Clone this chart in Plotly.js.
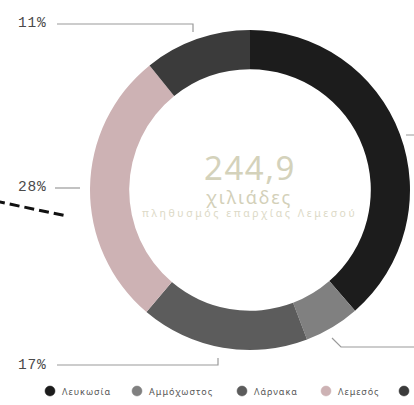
<!DOCTYPE html>
<html>
<head>
<meta charset="utf-8">
<script src="https://cdn.plot.ly/plotly-3.0.1.min.js"></script>
<style>
html,body{margin:0;padding:0;overflow:hidden;background:#fff;}
#chart{width:560px;height:405px;}
</style>
</head>
<body>
<div id="chart"></div>
<script>
// Data
const categories = ['Λευκωσία', 'Αμμόχωστος', 'Λάρνακα', 'Λεμεσός', 'Πάφος'];
const shares = [38.6, 5.6, 17.0, 28.0, 10.8];
const colors = ['#1c1c1c', '#808080', '#5c5c5c', '#cdb2b4', '#3b3b3b'];
const centerValue = '244,9';
const centerUnit = 'χιλιάδες';
const centerCaption = 'πληθυσμός επαρχίας Λεμεσού';

const W = 560, H = 405;
const px = x => x / W;
const py = y => 1 - y / H;
const pct = i => Math.round(shares[i]) + '%';

const trace = {
  type: 'pie',
  labels: categories,
  values: shares,
  marker: {colors: colors, line: {width: 0}},
  hole: 0.755,
  sort: false,
  direction: 'clockwise',
  rotation: 0,
  textinfo: 'none',
  hoverinfo: 'label+percent',
  showlegend: false,
  domain: {x: [px(90), px(410)], y: [py(350), py(30)]}
};

const lineStyle = {color: '#9a9a9a', width: 1.2};
const pathOf = pts => 'M ' + pts.map(p => px(p[0]) + ' ' + py(p[1])).join(' L ');
const shapes = [
  {type: 'path', xref: 'paper', yref: 'paper', path: pathOf([[57,24],[193,24],[193,32]]), line: lineStyle},
  {type: 'path', xref: 'paper', yref: 'paper', path: pathOf([[55,188],[80,188]]), line: lineStyle},
  {type: 'path', xref: 'paper', yref: 'paper', path: pathOf([[57,365],[218,365],[218,358]]), line: lineStyle},
  {type: 'path', xref: 'paper', yref: 'paper', path: pathOf([[332,338],[341,347],[470,347]]), line: lineStyle},
  {type: 'path', xref: 'paper', yref: 'paper', path: pathOf([[406,135],[450,135]]), line: lineStyle},
  {type: 'path', xref: 'paper', yref: 'paper', path: pathOf([[-5,201],[67,216]]), line: {color: '#111', width: 3, dash: '10px,5px'}}
];

const pctFont = {family: 'Liberation Mono, monospace', size: 14.5, color: '#4a4a4a'};
const pctText = i => '<span style="letter-spacing:0.8px">' + pct(i) + '</span>';
const annotations = [
  {text: pctText(4), x: px(49), y: py(23), xanchor: 'right', yanchor: 'middle'},
  {text: pctText(3), x: px(49), y: py(187), xanchor: 'right', yanchor: 'middle'},
  {text: pctText(2), x: px(49), y: py(365), xanchor: 'right', yanchor: 'middle'},
  {text: pctText(1), x: px(475), y: py(347), xanchor: 'left', yanchor: 'middle'},
  {text: pctText(0), x: px(455), y: py(135), xanchor: 'left', yanchor: 'middle'}
].map(a => Object.assign(a, {xref: 'paper', yref: 'paper', showarrow: false, font: pctFont}));

// centre text
annotations.push(
  {text: '<span style="letter-spacing:1.5px">' + centerValue + '</span>', x: px(250), y: py(168),
   xref: 'paper', yref: 'paper', showarrow: false, xanchor: 'center', yanchor: 'middle',
   font: {family: 'Noto Sans, sans-serif', size: 33, color: '#d4d2bb'}},
  {text: '<span style="letter-spacing:2px">' + centerUnit + '</span>', x: px(249), y: py(197),
   xref: 'paper', yref: 'paper', showarrow: false, xanchor: 'center', yanchor: 'middle',
   font: {family: 'Noto Sans, sans-serif', size: 18, color: '#d3d0b9'}},
  {text: '<span style="letter-spacing:2.6px">' + centerCaption + '</span>', x: px(249), y: py(213),
   xref: 'paper', yref: 'paper', showarrow: false, xanchor: 'center', yanchor: 'middle',
   font: {family: 'Noto Sans, sans-serif', size: 10.5, color: '#dcd9c6'}}
);

// legend (circle markers + names)
const legendX = [50, 137, 242, 326, 404];
const legendY = 391;
categories.forEach((c, i) => {
  shapes.push({
    type: 'circle', xref: 'paper', yref: 'paper',
    x0: px(legendX[i] - 5), x1: px(legendX[i] + 5), y0: py(legendY + 5), y1: py(legendY - 5),
    fillcolor: colors[i], line: {color: colors[i], width: 0.5}
  });
  annotations.push({
    text: '<span style="letter-spacing:1px">' + c + '</span>',
    x: px(legendX[i] + 10), y: py(legendY), xref: 'paper', yref: 'paper', showarrow: false,
    xanchor: 'left', yanchor: 'middle',
    font: {family: 'Noto Sans, sans-serif', size: 9, color: '#555'}
  });
});

const layout = {
  width: W, height: H,
  margin: {l: 0, r: 0, t: 0, b: 0},
  paper_bgcolor: '#fff',
  showlegend: false,
  shapes: shapes,
  annotations: annotations
};

Plotly.newPlot('chart', [trace], layout, {displayModeBar: false, staticPlot: true});
</script>
</body>
</html>
